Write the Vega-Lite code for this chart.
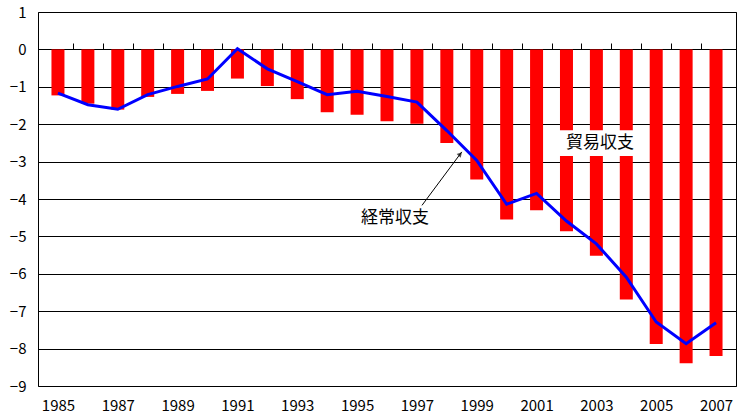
{
  "$schema": "https://vega.github.io/schema/vega-lite/v6.json",
  "width": 698,
  "height": 374,
  "autosize": {"type": "none"},
  "padding": {"left": 38, "top": 12, "right": 1, "bottom": 27},
  "background": "white",
  "config": {
    "view": {"stroke": "black", "strokeWidth": 1},
    "font": "Noto Sans CJK JP"
  },
  "datasets": {
    "balance": [
      {"year": 1985, "trade": -1.23, "current": -1.17},
      {"year": 1986, "trade": -1.45, "current": -1.48},
      {"year": 1987, "trade": -1.61, "current": -1.60},
      {"year": 1988, "trade": -1.27, "current": -1.21},
      {"year": 1989, "trade": -1.19, "current": -0.99},
      {"year": 1990, "trade": -1.11, "current": -0.79},
      {"year": 1991, "trade": -0.78, "current": 0.02},
      {"year": 1992, "trade": -0.98, "current": -0.52},
      {"year": 1993, "trade": -1.33, "current": -0.86},
      {"year": 1994, "trade": -1.68, "current": -1.21},
      {"year": 1995, "trade": -1.75, "current": -1.12},
      {"year": 1996, "trade": -1.92, "current": -1.26},
      {"year": 1997, "trade": -1.99, "current": -1.41},
      {"year": 1998, "trade": -2.50, "current": -2.17},
      {"year": 1999, "trade": -3.48, "current": -2.97},
      {"year": 2000, "trade": -4.55, "current": -4.14},
      {"year": 2001, "trade": -4.30, "current": -3.85},
      {"year": 2002, "trade": -4.86, "current": -4.59},
      {"year": 2003, "trade": -5.52, "current": -5.20},
      {"year": 2004, "trade": -6.69, "current": -6.09},
      {"year": 2005, "trade": -7.88, "current": -7.29},
      {"year": 2006, "trade": -8.39, "current": -7.87},
      {"year": 2007, "trade": -8.20, "current": -7.31}
    ]
  },
  "resolve": {"axis": {"x": "independent"}},
  "layer": [
    {
      "data": {"name": "balance"},
      "mark": {"type": "bar", "color": "#ff0000", "size": 13},
      "encoding": {
        "x": {
          "field": "year",
          "type": "quantitative",
          "scale": {"domain": [1984.5, 2007.5], "nice": false, "zero": false},
          "axis": {
            "title": null,
            "values": [1985, 1987, 1989, 1991, 1993, 1995, 1997, 1999, 2001, 2003, 2005, 2007],
            "tickCount": 40,
            "format": "d",
            "domain": false,
            "ticks": false,
            "tickSize": 0,
            "grid": false,
            "labelOverlap": false,
            "labelPadding": 12,
            "labelFontSize": 15,
            "labelColor": "black",
            "labelFont": "Noto Sans CJK JP"
          }
        },
        "y": {
          "field": "trade",
          "type": "quantitative",
          "scale": {"domain": [-9, 1], "nice": false},
          "axis": {
            "title": null,
            "values": [-9, -8, -7, -6, -5, -4, -3, -2, -1, 0, 1],
            "tickCount": 40,
            "format": "d",
            "domain": false,
            "ticks": false,
            "tickSize": 0,
            "grid": true,
            "gridColor": "black",
            "gridOpacity": 1,
            "gridWidth": 1,
            "labelOverlap": false,
            "labelPadding": 12,
            "labelFontSize": 15,
            "labelColor": "black",
            "labelFont": "Noto Sans CJK JP"
          }
        }
      }
    },
    {
      "data": {"name": "balance"},
      "mark": {"type": "line", "color": "#0000ff", "strokeWidth": 3},
      "encoding": {
        "x": {
          "field": "year",
          "type": "quantitative",
          "axis": {
            "title": null,
            "orient": "bottom",
            "offset": -337,
            "values": [1985.5, 1986.5, 1987.5, 1988.5, 1989.5, 1990.5, 1991.5, 1992.5, 1993.5, 1994.5, 1995.5, 1996.5, 1997.5, 1998.5, 1999.5, 2000.5, 2001.5, 2002.5, 2003.5, 2004.5, 2005.5, 2006.5],
            "tickCount": 40,
            "labels": false,
            "domain": false,
            "ticks": true,
            "tickSize": -6,
            "tickColor": "black",
            "tickWidth": 1,
            "grid": false
          }
        },
        "y": {"field": "current", "type": "quantitative"}
      }
    },
    {
      "data": {"values": [{"x0": 1997.17, "y0": -4.17, "x1": 1998.5, "y1": -2.74}]},
      "mark": {"type": "rule", "color": "black", "strokeWidth": 1},
      "encoding": {
        "x": {"field": "x0", "type": "quantitative", "axis": null},
        "y": {"field": "y0", "type": "quantitative"},
        "x2": {"field": "x1"},
        "y2": {"field": "y1"}
      }
    },
    {
      "data": {"values": [{"x": 1998.45, "y": -2.8}]},
      "mark": {"type": "point", "shape": "triangle-up", "filled": true, "color": "black", "size": 30, "angle": 42},
      "encoding": {
        "x": {"field": "x", "type": "quantitative", "axis": null},
        "y": {"field": "y", "type": "quantitative"}
      }
    },
    {
      "data": {"values": [{"x0": 2001.7, "x1": 2004.55, "y0": -2.16, "y1": -2.85}]},
      "mark": {"type": "rect", "color": "white"},
      "encoding": {
        "x": {"field": "x0", "type": "quantitative", "axis": null},
        "x2": {"field": "x1"},
        "y": {"field": "y0", "type": "quantitative"},
        "y2": {"field": "y1"}
      }
    },
    {
      "data": {"values": [
        {"x": 2003.12, "y": -2.49, "label": "貿易収支"},
        {"x": 1996.27, "y": -4.5, "label": "経常収支"}
      ]},
      "mark": {"type": "text", "fontSize": 17, "color": "black", "align": "center", "baseline": "middle", "font": "Noto Sans CJK JP"},
      "encoding": {
        "x": {"field": "x", "type": "quantitative", "axis": null},
        "y": {"field": "y", "type": "quantitative"},
        "text": {"field": "label"}
      }
    }
  ]
}
